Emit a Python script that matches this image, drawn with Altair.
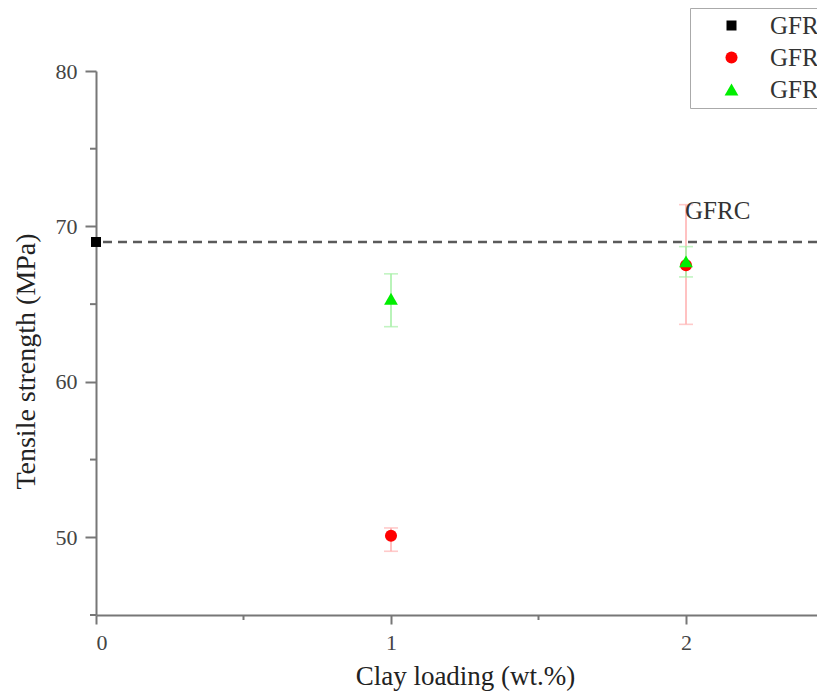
import altair as alt
import pandas as pd

FONT = "Liberation Serif"

# ---- data ----
series_names = ["GFRC", "GFRC/Clay", "GFRC/Clay-T"]
series_colors = ["#000000", "#ff0000", "#00ee00"]
series_shapes = ["square", "circle", "triangle-up"]
series_sizes = [100, 190, 230]

pt_series = ["GFRC", "GFRC/Clay", "GFRC/Clay", "GFRC/Clay-T", "GFRC/Clay-T"]
pt_x = [0, 1, 2, 1, 2]
pt_y = [69.0, 50.1, 67.5, 65.35, 67.75]
pt_lo = [69.0, 49.1, 63.7, 63.55, 66.75]
pt_hi = [69.0, 50.6, 71.4, 66.95, 68.7]

ref_line = [69.0]
ref_label_x = [2]
ref_label_y = [70.45]
ref_label_text = ["GFRC"]

x_ticks = [0, 1, 2]
x_minor = [0.5, 1.5]
y_ticks = [50, 60, 70, 80]
y_minor = [45, 55, 65, 75]

W, H = 721, 544
X_MAX = 721 / 295.0

pts = pd.DataFrame({"series": pt_series, "x": pt_x, "y": pt_y, "lo": pt_lo, "hi": pt_hi})
err = pts[pts["series"] != "GFRC"]
err_colors = {"GFRC/Clay": "#ffb3b3", "GFRC/Clay-T": "#a8f0a8"}
err = err.assign(ecol=[err_colors[s] for s in err["series"]])

xs = alt.Scale(domain=[0, X_MAX], nice=False, zero=False)
ys = alt.Scale(domain=[45, 80], nice=False, zero=False)

x_enc = alt.X("x:Q", scale=xs, axis=alt.Axis(
    values=x_ticks, format="d", title="Clay loading (wt.%)",
    titleX=369, titleY=69, titleBaseline="alphabetic", titleAlign="center",
    tickSize=9, labelPadding=8))
y_enc = alt.Y("y:Q", scale=ys, axis=alt.Axis(
    values=y_ticks, title="Tensile strength (MPa)",
    titleX=-62, titleY=290, titleBaseline="alphabetic", titleAlign="center", titleAngle=-90,
    tickSize=11, labelPadding=8))

dash = alt.Chart(pd.DataFrame({"y": ref_line})).mark_rule(
    color="#5a5a5a", strokeDash=[9, 6], strokeWidth=2.5).encode(y=y_enc)

err_rule = alt.Chart(err).mark_rule(strokeWidth=1.6).encode(
    x=x_enc, y=alt.Y("lo:Q", scale=ys), y2="hi:Q",
    color=alt.Color("ecol:N", scale=None))
cap_lo = alt.Chart(err).mark_tick(orient="horizontal", size=14, thickness=1.6).encode(
    x=alt.X("x:Q", scale=xs), y=alt.Y("lo:Q", scale=ys), color=alt.Color("ecol:N", scale=None))
cap_hi = alt.Chart(err).mark_tick(orient="horizontal", size=14, thickness=1.6).encode(
    x=alt.X("x:Q", scale=xs), y=alt.Y("hi:Q", scale=ys), color=alt.Color("ecol:N", scale=None))

points = alt.Chart(pts).mark_point(filled=True, opacity=1, strokeWidth=0).encode(
    x=alt.X("x:Q", scale=xs),
    y=alt.Y("y:Q", scale=ys),
    color=alt.Color("series:N", scale=alt.Scale(domain=series_names, range=series_colors),
                    legend=alt.Legend(title=None)),
    shape=alt.Shape("series:N", scale=alt.Scale(domain=series_names, range=series_shapes),
                    legend=alt.Legend(title=None)),
    size=alt.Size("series:N", scale=alt.Scale(domain=series_names, range=series_sizes), legend=None),
    order=alt.Order("x:Q"),
)

label = alt.Chart(pd.DataFrame({"x": ref_label_x, "y": ref_label_y, "t": ref_label_text})).mark_text(
    font=FONT, fontSize=25, align="left", baseline="alphabetic", dx=-1, color="#333333").encode(
    x=alt.X("x:Q", scale=xs), y=alt.Y("y:Q", scale=ys), text="t:N")

ymin = alt.Chart(pd.DataFrame({"y": y_minor})).mark_rule(color="#777777", strokeWidth=2).encode(
    y=alt.Y("y:Q", scale=ys), x=alt.value(-6), x2=alt.value(0))
xmin = alt.Chart(pd.DataFrame({"x": x_minor})).mark_rule(color="#777777", strokeWidth=2).encode(
    x=alt.X("x:Q", scale=xs), y=alt.value(H), y2=alt.value(H + 5))

chart = alt.layer(dash, ymin, xmin, err_rule, cap_lo, cap_hi, points, label).properties(
    width=W, height=H,
    autosize=alt.AutoSizeParams(type="none"),
    padding={"left": 88, "top": 63, "right": 0, "bottom": 80},
).configure_view(strokeOpacity=0).configure_axis(
    grid=False,
    domainColor="#777777", domainWidth=2,
    tickColor="#777777", tickWidth=2,
    labelFont=FONT, labelFontSize=22, labelColor="#444444",
    titleFont=FONT, titleFontSize=27, titleColor="#222222", titleFontWeight="normal",
).configure_axisY(titleFontSize=28).configure_legend(
    orient="none", legendX=594, legendY=-63,
    padding=5, strokeColor="#aaaaaa", fillColor="#ffffff",
    labelFont=FONT, labelFontSize=25, labelColor="#333333",
    symbolSize=170, symbolOffset=24, labelOffset=26, rowPadding=6,
    symbolStrokeWidth=0, symbolOpacity=1,
)

chart.save("out.html", embed_options={"renderer": "svg", "actions": False})
